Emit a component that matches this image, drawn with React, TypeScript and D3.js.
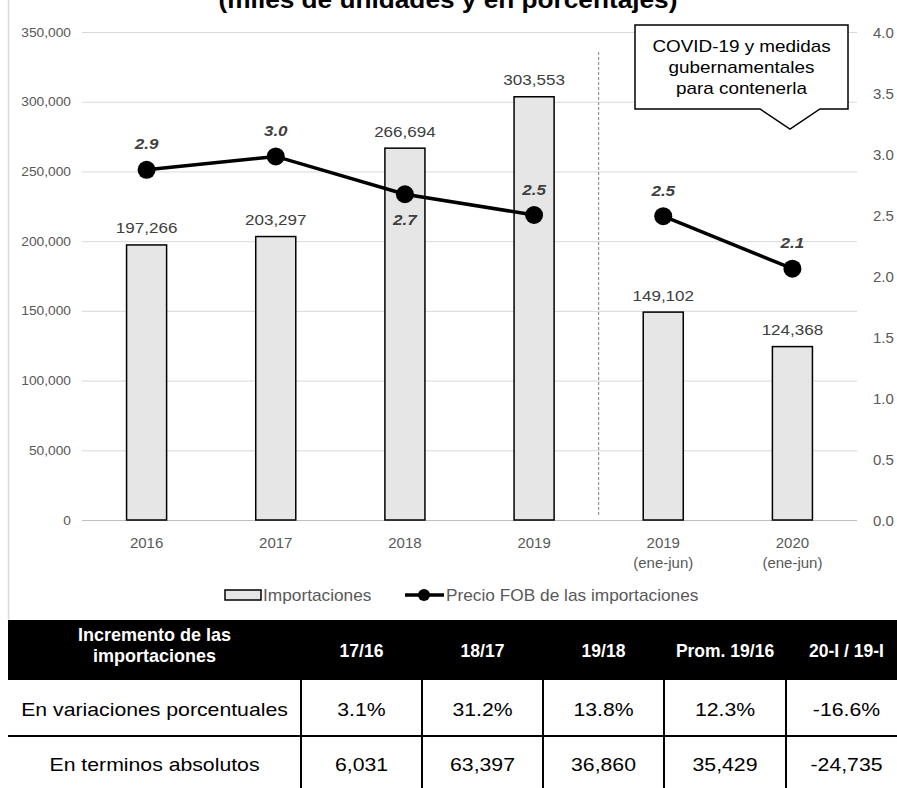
import React from "react";
import * as d3 from "d3";

// ---------- data ----------
const categories = ["2016", "2017", "2018", "2019", "2019 (ene-jun)", "2020 (ene-jun)"];
const catLine1 = ["2016", "2017", "2018", "2019", "2019", "2020"];
const catLine2 = ["", "", "", "", "(ene-jun)", "(ene-jun)"];
const imports = [197266, 203297, 266694, 303553, 149102, 124368];
const price = [2.87, 2.98, 2.67, 2.5, 2.49, 2.06];
const priceLabels = ["2.9", "3.0", "2.7", "2.5", "2.5", "2.1"];
const period = ["anual", "anual", "anual", "anual", "semestre", "semestre"];
const leftTicks = [0, 50000, 100000, 150000, 200000, 250000, 300000, 350000];
const rightTicks = [0, 0.5, 1, 1.5, 2, 2.5, 3, 3.5, 4];
const titleText = "(miles de unidades y en porcentajes)";
const calloutLines = ["COVID-19 y medidas", "gubernamentales", "para contenerla"];
const legendBar = "Importaciones";
const legendLine = "Precio FOB de las importaciones";
const tableHeader = ["17/16", "18/17", "19/18", "Prom. 19/16", "20-I / 19-I"];
const tableCorner = ["Incremento de las", "importaciones"];
const rowLabels = ["En variaciones porcentuales", "En terminos absolutos"];
const pctChange = ["3.1%", "31.2%", "13.8%", "12.3%", "-16.6%"];
const absChange = ["6,031", "63,397", "36,860", "35,429", "-24,735"];

// ---------- layout ----------
const W = 897;
const H = 788;
const FONT = "'Liberation Sans', Arial, sans-serif";
const priceLabelPos = ["above", "above", "below", "above", "above", "above"];
const colEdges = [8, 301, 422, 543, 664, 786, 907];

type TP = {
  x: number;
  y: number;
  sx?: number;
  anchor?: "start" | "middle" | "end";
  size: number;
  weight?: string | number;
  italic?: boolean;
  fill?: string;
  children: React.ReactNode;
};
const T = ({ x, y, sx = 1, anchor = "middle", size, weight = "normal", italic = false, fill = "#000", children }: TP) => (
  <text
    transform={`translate(${x},${y}) scale(${sx},1)`}
    textAnchor={anchor}
    fontSize={size}
    fontWeight={weight}
    fontStyle={italic ? "italic" : "normal"}
    fill={fill}
    fontFamily={FONT}
  >
    {children}
  </text>
);

export default function App() {
  const x = d3.scaleBand<string>().domain(categories).range([82, 857]).padding(0);
  const yL = d3.scaleLinear().domain([0, 350000]).range([520, 32]);
  const yR = d3.scaleLinear().domain([0, 4]).range([520, 32]);
  const xc = (i: number) => (x(categories[i]) as number) + x.bandwidth() / 2;
  const barW = x.bandwidth() * 0.31;
  const fmt = d3.format(",");
  const fmtR = d3.format(".1f");

  const groups = Array.from(d3.group(d3.range(categories.length), (i) => period[i]).values());
  const line = d3
    .line<number>()
    .x((i) => xc(i))
    .y((i) => yR(price[i]));

  const sepX = x(categories[4]) as number;
  const gridColor = "#d9d9d9";

  // callout geometry
  const cb = { l: 635, r: 848, t: 25, b: 109, p1: 760, pa: 790, p2: 820, py: 129 };
  const calloutPath = `M${cb.l},${cb.t}H${cb.r}V${cb.b}H${cb.p2}L${cb.pa},${cb.py}L${cb.p1},${cb.b}H${cb.l}Z`;

  return (
    <div style={{ position: "absolute", left: 0, top: 0 }}>
      <svg width={W} height={H} style={{ display: "block", background: "#fff" }}>
        <rect x={0} y={0} width={W} height={H} fill="#fff" />
        {/* chart border */}
        <line x1={8.5} x2={8.5} y1={0} y2={620} stroke={gridColor} strokeWidth={1.5} />

        {/* title */}
        <T x={448} y={8} size={23} sx={1.14} weight="bold">
          {titleText}
        </T>

        {/* gridlines */}
        {leftTicks.map((t) => (
          <line key={t} x1={82} x2={857} y1={yL(t) + 0.5} y2={yL(t) + 0.5} stroke={t === 0 ? "#bfbfbf" : gridColor} strokeWidth={1} />
        ))}

        {/* left axis labels */}
        {leftTicks.map((t) => (
          <T key={t} x={71} y={yL(t) + 4.5} size={13} sx={1.06} anchor="end" fill="#595959">
            {fmt(t)}
          </T>
        ))}
        {/* right axis labels */}
        {rightTicks.map((t) => (
          <T key={t} x={873} y={yR(t) + 5.5} size={15} anchor="start" fill="#595959">
            {fmtR(t)}
          </T>
        ))}

        {/* separator */}
        <line x1={sepX} x2={sepX} y1={52} y2={515} stroke="#808080" strokeWidth={1} strokeDasharray="3,2" />

        {/* bars */}
        {imports.map((v, i) => (
          <rect
            key={i}
            x={xc(i) - barW / 2}
            y={yL(v)}
            width={barW}
            height={yL(0) - yL(v)}
            fill="#e6e6e6"
            stroke="#000"
            strokeWidth={1.5}
          />
        ))}
        {imports.map((v, i) => (
          <T key={i} x={xc(i)} y={yL(v) - 11.5} size={15.5} sx={1.1} fill="#404040">
            {fmt(v)}
          </T>
        ))}

        {/* price line */}
        {groups.map((g, k) => (
          <path key={k} d={line(g) as string} fill="none" stroke="#000" strokeWidth={3.5} />
        ))}
        {price.map((p, i) => (
          <circle key={i} cx={xc(i)} cy={yR(p)} r={9} fill="#000" />
        ))}
        {price.map((p, i) => (
          <T
            key={i}
            x={xc(i)}
            y={yR(p) + (priceLabelPos[i] === "above" ? -26 : 25) + 5.5}
            size={15.5}
            sx={1.1}
            weight="bold"
            italic
            fill="#404040"
          >
            {priceLabels[i]}
          </T>
        ))}

        {/* x axis labels */}
        {categories.map((c, i) => (
          <g key={c}>
            <T x={xc(i)} y={547.5} size={15} fill="#595959">
              {catLine1[i]}
            </T>
            {catLine2[i] && (
              <T x={xc(i)} y={568} size={15} fill="#595959">
                {catLine2[i]}
              </T>
            )}
          </g>
        ))}

        {/* callout */}
        <path d={calloutPath} fill="#fff" stroke="#000" strokeWidth={1.5} />
        {calloutLines.map((s, k) => (
          <T key={k} x={(cb.l + cb.r) / 2} y={52 + k * 21} size={16} sx={1.18}>
            {s}
          </T>
        ))}

        {/* legend */}
        <rect x={225} y={590} width={36} height={10} fill="#e6e6e6" stroke="#000" strokeWidth={1.5} />
        <T x={263} y={600.5} size={16} sx={1.08} anchor="start" fill="#595959">
          {legendBar}
        </T>
        <line x1={405} x2={444} y1={595} y2={595} stroke="#000" strokeWidth={3.5} />
        <circle cx={424} cy={595} r={6} fill="#000" />
        <T x={446} y={600.5} size={16} sx={1.08} anchor="start" fill="#595959">
          {legendLine}
        </T>

        {/* table */}
        <rect x={8} y={620} width={W - 8} height={60} fill="#000" />
        {tableCorner.map((s, k) => (
          <T key={k} x={(colEdges[0] + colEdges[1]) / 2} y={641 + k * 21} size={17.5} sx={1.03} weight="bold" fill="#fff">
            {s}
          </T>
        ))}
        {tableHeader.map((h, j) => (
          <T key={j} x={(colEdges[j + 1] + colEdges[j + 2]) / 2} y={657} size={17.5} weight="bold" fill="#fff">
            {h}
          </T>
        ))}
        <line x1={8} x2={W} y1={736} y2={736} stroke="#000" strokeWidth={2} />
        {colEdges.slice(1, 6).map((cx, j) => (
          <line key={j} x1={cx} x2={cx} y1={680} y2={H} stroke="#000" strokeWidth={2} />
        ))}
        {rowLabels.map((r, k) => (
          <T key={k} x={(colEdges[0] + colEdges[1]) / 2} y={716 + k * 55} size={18} sx={1.18}>
            {r}
          </T>
        ))}
        {[pctChange, absChange].map((row, k) =>
          row.map((v, j) => (
            <T key={`${k}-${j}`} x={(colEdges[j + 1] + colEdges[j + 2]) / 2} y={716 + k * 55} size={18} sx={1.18}>
              {v}
            </T>
          ))
        )}
      </svg>
    </div>
  );
}
